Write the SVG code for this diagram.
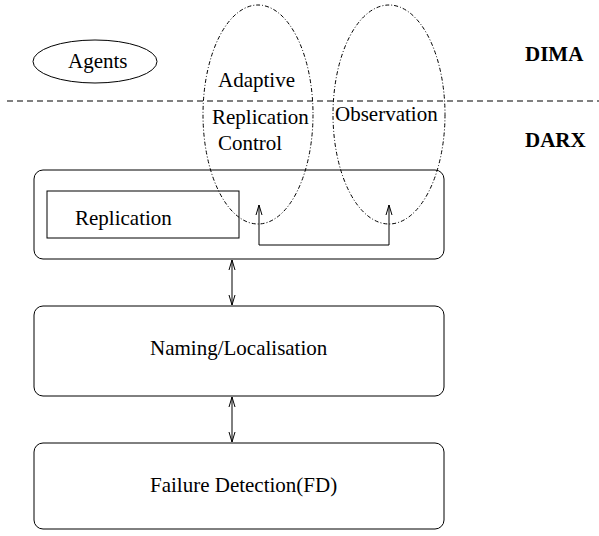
<svg xmlns="http://www.w3.org/2000/svg" width="599" height="536" viewBox="0 0 599 536">
<style>
text{font-family:"Liberation Serif","Times New Roman",serif;font-size:21px;fill:#000}
.b{font-weight:bold}
.box{fill:none;stroke:#000;stroke-width:1}
.dd{fill:none;stroke:#000;stroke-width:1;stroke-dasharray:4 2 1 2}
.ln{fill:none;stroke:#000;stroke-width:1}
</style>
<defs>
<marker id="ah" viewBox="0 0 10 10" refX="10" refY="5" markerWidth="10" markerHeight="10" markerUnits="userSpaceOnUse" orient="auto-start-reverse">
<path d="M0,2 L10,5 L0,8" fill="none" stroke="#000" stroke-width="1"/>
</marker>
</defs>
<rect width="599" height="536" fill="#fff"/>
<line x1="7" y1="101" x2="599" y2="101" stroke="#000" stroke-width="1" stroke-dasharray="6 4"/>
<g id="agents"><ellipse cx="95" cy="61.5" rx="62" ry="21.5" class="box"/><text x="68" y="68">Agents</text></g>
<g id="dima"><text class="b" x="525" y="61">DIMA</text></g>
<g id="darx"><text class="b" x="525" y="147">DARX</text></g>
<g id="box1"><rect x="34" y="170" width="410" height="89" rx="9" class="box"/></g>
<g id="replication"><rect x="47" y="191" width="192" height="47" class="box"/><text x="75" y="225">Replication</text></g>
<g id="naming"><rect x="34" y="306" width="410" height="90" rx="9" class="box"/><text x="150" y="355">Naming/Localisation</text></g>
<g id="fd"><rect x="34" y="443" width="410" height="86" rx="9" class="box"/><text x="150" y="492">Failure Detection(FD)</text></g>
<g id="arc"><ellipse cx="258" cy="114.5" rx="55" ry="109.5" class="dd"/><text x="218" y="87">Adaptive</text><text x="212" y="124">Replication</text><text x="218" y="150">Control</text></g>
<g id="obs"><ellipse cx="389" cy="114.5" rx="56" ry="109.5" class="dd"/><text x="335" y="121">Observation</text></g>
<g id="connectors">
<path d="M259,245 L389,245 L389,205" class="ln" marker-end="url(#ah)"/>
<path d="M259,245 L259,205" class="ln" marker-end="url(#ah)"/>
<line x1="232" y1="260" x2="232" y2="305" class="ln" marker-start="url(#ah)" marker-end="url(#ah)"/>
<line x1="232" y1="397" x2="232" y2="442" class="ln" marker-start="url(#ah)" marker-end="url(#ah)"/>
</g>
</svg>
